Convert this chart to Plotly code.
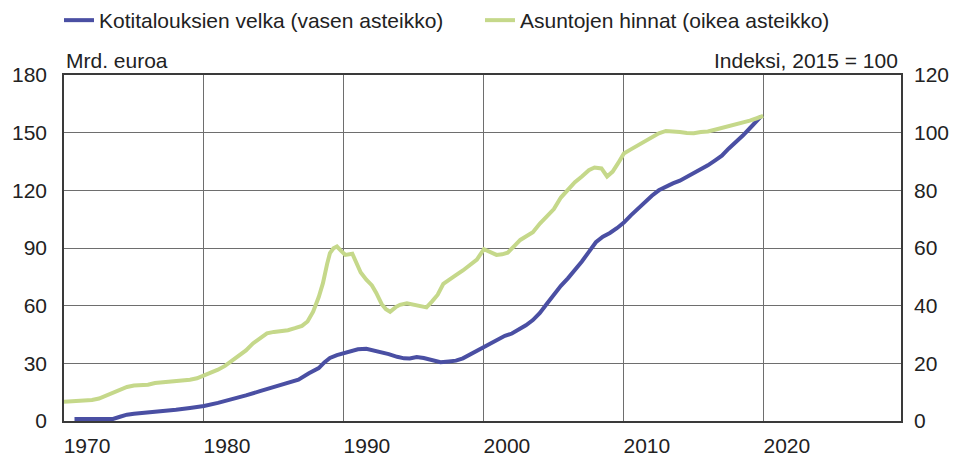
import plotly.graph_objects as go

# --- Data ---
debt_years = [1970.75, 1971.5, 1972.5, 1973.5, 1974.0, 1974.5, 1975.0, 1976.0, 1977.0, 1978.0,
              1979.0, 1980.0, 1981.0, 1982.0, 1983.0, 1984.0, 1985.0, 1986.0, 1986.75, 1987.5,
              1988.2, 1988.6, 1989.0, 1989.5, 1990.0, 1990.5, 1991.0, 1991.6, 1992.0, 1992.6,
              1993.2, 1993.8, 1994.3, 1994.7, 1995.2, 1995.7, 1996.3, 1996.9, 1997.5, 1998.0,
              1998.5, 1999.0, 1999.5, 2000.0, 2000.5, 2001.0, 2001.5, 2002.0, 2002.5, 2003.0,
              2003.5, 2004.0, 2004.5, 2005.0, 2005.5, 2006.0, 2006.5, 2007.0, 2007.5, 2008.0,
              2008.5, 2009.0, 2009.5, 2010.0, 2010.5, 2011.0, 2011.5, 2012.0, 2012.5, 2013.0,
              2013.5, 2014.0, 2014.5, 2015.0, 2015.5, 2016.0, 2016.5, 2017.0, 2017.5, 2018.0,
              2018.5, 2019.0, 2019.5, 2019.8]
debt_values = [1.0, 1.0, 1.0, 1.1, 2.2, 3.3, 3.8, 4.3, 5.0, 5.8,
               6.8, 7.8, 9.4, 11.2, 13.3, 15.5, 17.8, 19.8, 21.5, 24.8,
               27.5, 30.5, 32.8, 34.3, 35.3, 36.5, 37.3, 37.6, 37.0, 36.0,
               34.8, 33.4, 32.6, 32.5, 33.3, 32.8, 31.5, 30.6, 31.0, 31.4,
               32.6, 34.6, 36.8, 38.6, 40.8, 42.8, 44.3, 45.5, 47.6, 49.8,
               52.5, 56.2, 61.0, 65.8, 70.3, 74.2, 78.4, 83.0, 88.0, 93.0,
               95.9, 97.8, 100.3, 103.2, 107.0, 110.6, 114.0, 117.2, 120.0, 122.0,
               123.6, 125.0, 127.0, 128.6, 130.8, 133.0, 135.5, 138.0, 141.8, 145.0,
               148.5, 152.3, 156.3, 158.5]

price_years = [1970.0, 1970.5, 1971.0, 1971.5, 1972.0, 1972.5, 1973.0, 1973.5, 1974.0, 1974.5,
               1975.0, 1975.5, 1976.0, 1976.5, 1977.0, 1977.5, 1978.0, 1978.5, 1979.0, 1979.5,
               1980.0, 1980.5, 1981.0, 1981.5, 1982.0, 1982.5, 1983.0, 1983.5, 1984.0, 1984.5,
               1985.0, 1985.5, 1986.0, 1986.5, 1987.0, 1987.4, 1987.8, 1988.2, 1988.5, 1988.8,
               1989.0, 1989.25, 1989.5, 1989.8, 1990.1, 1990.6, 1990.9, 1991.2, 1991.6, 1992.0,
               1992.3, 1992.7, 1993.0, 1993.3, 1993.7, 1994.0, 1994.5, 1995.0, 1995.5, 1995.9,
               1996.3, 1996.7, 1997.1, 1997.6, 1998.0, 1998.5, 1999.0, 1999.5, 2000.0, 2000.5,
               2000.9, 2001.3, 2001.7, 2002.2, 2002.6, 2003.0, 2003.5, 2004.0, 2004.5, 2005.0,
               2005.5, 2006.0, 2006.5, 2007.0, 2007.5, 2007.9, 2008.4, 2008.8, 2009.2, 2009.6,
               2010.0, 2010.5, 2011.0, 2011.5, 2012.0, 2012.5, 2013.0, 2013.5, 2014.0, 2014.5,
               2015.0, 2015.5, 2016.0, 2016.5, 2017.0, 2017.5, 2018.0, 2018.5, 2019.0, 2019.5,
               2019.95]
price_values = [6.7, 6.8, 6.9, 7.0, 7.3, 7.8, 8.8, 10.0, 11.0, 11.8,
                12.3, 12.5, 12.6, 13.2, 13.4, 13.5, 13.7, 14.0, 14.3, 14.8,
                15.7, 16.7, 17.8, 19.1, 20.8, 22.5, 24.5, 26.9, 28.8, 30.4,
                30.9, 31.1, 31.5, 32.2, 33.0, 34.5, 37.9, 43.0, 47.8, 54.5,
                58.2, 59.9, 60.5, 59.0, 57.6, 58.0, 55.0, 51.5, 49.0, 47.0,
                44.5, 40.5, 38.8, 37.9, 39.5, 40.3, 40.8, 40.2, 39.6, 39.4,
                41.5, 43.8, 47.6, 49.5, 50.6, 52.2, 54.3, 56.0, 59.6, 58.4,
                57.6, 57.8, 58.4, 60.8, 62.8, 64.0, 65.5, 68.5, 70.8, 73.5,
                77.5, 80.2, 82.8, 84.8, 87.0, 87.9, 87.6, 84.8, 86.5, 89.5,
                92.8, 94.2, 95.6, 97.2, 98.4, 99.8, 100.6, 100.5, 100.2, 99.9,
                99.8, 100.2, 100.4, 101.0, 101.6, 102.3, 102.9, 103.5, 104.2, 105.0,
                105.8]

x_tick_vals = [1970, 1980, 1990, 2000, 2010, 2020]
x_tick_text = ["1970", "1980", "1990", "2000", "2010", "2020"]
left_ticks = [0, 30, 60, 90, 120, 150, 180]
right_ticks = [0, 20, 40, 60, 80, 100, 120]

debt_name = "Kotitalouksien velka (vasen asteikko)"
price_name = "Asuntojen hinnat (oikea asteikko)"
left_title = "Mrd. euroa"
right_title = "Indeksi, 2015 = 100"

FONT = "Liberation Sans, Arial, sans-serif"
FS = 21
TXT = "#222222"
GRID = "#6e6e6e"
AXIS = "#3a3a3a"

fig = go.Figure()
fig.add_trace(go.Scatter(x=debt_years, y=debt_values, name=debt_name, mode="lines",
                         line=dict(color="#4a4fa3", width=4), yaxis="y", legend="legend",
                         showlegend=True))
fig.add_trace(go.Scatter(x=price_years, y=price_values, name=price_name, mode="lines",
                         line=dict(color="#c5d88a", width=4), yaxis="y2", legend="legend2",
                         showlegend=True))

fig.update_layout(
    width=959, height=458,
    showlegend=True,
    margin=dict(l=64, r=58, t=75, b=37, autoexpand=False),
    paper_bgcolor="white", plot_bgcolor="white",
    font=dict(family=FONT, size=FS, color=TXT),
    xaxis=dict(range=[1970, 2029.8], tickmode="array", tickvals=x_tick_vals, ticktext=x_tick_text,
               showgrid=True, gridcolor=GRID, gridwidth=1, automargin=False,
               showline=True, linecolor=AXIS, linewidth=1.5, mirror=True,
               ticks="", ticklabelshift=23, ticklabelstandoff=5, zeroline=False),
    yaxis=dict(range=[0, 180], tickmode="array", tickvals=left_ticks, automargin=False,
               showgrid=True, gridcolor=GRID, gridwidth=1,
               showline=True, linecolor=AXIS, linewidth=1.5, mirror=True,
               ticks="", ticklabelstandoff=11, zeroline=False),
    yaxis2=dict(range=[0, 120], tickmode="array", tickvals=right_ticks, overlaying="y", side="right",
                automargin=False, showgrid=False, showline=False, ticks="", ticklabelstandoff=12,
                zeroline=False),
    legend=dict(x=-0.006, xanchor="left", y=1.0, yref="container", yanchor="top",
                orientation="h", font=dict(size=FS, family=FONT, color=TXT),
                itemwidth=30, bgcolor="rgba(0,0,0,0)"),
    legend2=dict(x=0.497, xanchor="left", y=1.0, yref="container", yanchor="top",
                 orientation="h", font=dict(size=FS, family=FONT, color=TXT),
                 itemwidth=30, bgcolor="rgba(0,0,0,0)"),
    annotations=[
        dict(text=left_title, xref="paper", yref="paper", x=0, y=1, xanchor="left", yanchor="bottom",
             showarrow=False, yshift=1, font=dict(size=FS, family=FONT, color=TXT)),
        dict(text=right_title, xref="paper", yref="paper", x=1, y=1, xanchor="right", yanchor="bottom",
             showarrow=False, yshift=1, xshift=-1, font=dict(size=FS, family=FONT, color=TXT)),
    ],
)

fig.write_html("out.html", config={"displayModeBar": False},
               post_script="document.body.style.margin='0';document.body.style.overflow='hidden';")
